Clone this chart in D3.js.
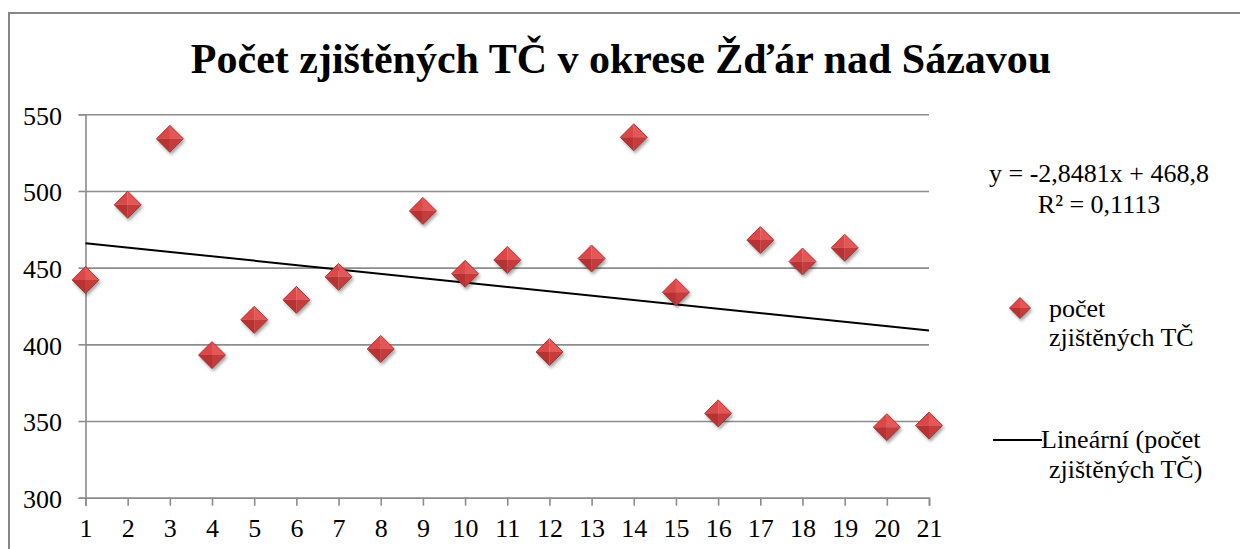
<!DOCTYPE html>
<html>
<head>
<meta charset="utf-8">
<script src="https://cdn.jsdelivr.net/npm/d3@7/dist/d3.min.js"></script>
<style>
  body { margin: 0; background: #fff; }
  svg text { font-family: "Liberation Serif", "Times New Roman", serif; fill: #000; }
</style>
</head>
<body>
<div id="chart"></div>
<script>
// data
var years = d3.range(1, 22);
var counts = [442, 491, 534, 393, 416, 429, 444, 397, 487, 446, 455, 395, 456, 535, 434, 355, 468, 454, 463, 346, 347];
var yTicks = [300, 350, 400, 450, 500, 550];
var title = "Počet zjištěných TČ v okrese Žďár nad Sázavou";
var eqLines = ["y = -2,8481x + 468,8", "R² = 0,1113"];
var seriesLabel = ["počet", "zjištěných TČ"];
var trendLabel = ["Lineární (počet", "zjištěných TČ)"];

var fullWidth = 1240, fullHeight = 549;
var margin = {top: 114.3, left: 85.5};
var width = 929 - margin.left;
var height = 497.7 - margin.top;
var fs = 26;

var svg = d3.select("#chart")
    .append("svg")
    .attr("width", fullWidth)
    .attr("height", fullHeight);

var defs = svg.append("defs");
var shadow = defs.append("filter").attr("id", "shadow")
    .attr("x", "-50%").attr("y", "-50%").attr("width", "200%").attr("height", "200%");
shadow.append("feDropShadow")
    .attr("dx", 1.5).attr("dy", 2.5).attr("stdDeviation", 1.6)
    .attr("flood-color", "#000").attr("flood-opacity", 0.35);

// outer chart border (runs off the right and bottom)
svg.append("rect")
    .attr("x", 9).attr("y", 13)
    .attr("width", 1260).attr("height", 600)
    .attr("fill", "none")
    .attr("stroke", "#878787")
    .attr("stroke-width", 2);

svg.append("text")
    .attr("x", 621).attr("y", 73)
    .attr("text-anchor", "middle")
    .attr("font-size", 42)
    .attr("font-weight", "bold")
    .text(title);

var g = svg.append("g")
    .attr("transform", "translate(" + margin.left + "," + margin.top + ")");

var xScale = d3.scaleLinear().domain([1, 21]).range([0, width]);
var yScale = d3.scaleLinear().domain([300, 550]).range([height, 0]);

// gridlines
g.append("g")
    .attr("class", "grid")
    .call(d3.axisLeft(yScale).tickValues(yTicks).tickSize(-width).tickFormat(""))
    .call(function(s) {
        s.select(".domain").remove();
        s.selectAll("line").attr("stroke", "#8c8c8c").attr("stroke-width", 1.6);
    });

var yAxis = d3.axisLeft(yScale).tickValues(yTicks).tickSize(7).tickPadding(16.5);
g.append("g")
    .call(yAxis)
    .call(function(s) {
        s.select(".domain").attr("stroke", "#8c8c8c").attr("stroke-width", 1.6);
        s.selectAll("line").attr("stroke", "#8c8c8c").attr("stroke-width", 1.6);
        s.selectAll("text").attr("font-size", fs).attr("dy", "0.38em");
    });

var xAxis = d3.axisBottom(xScale).tickValues(years).tickSize(8).tickPadding(13);
g.append("g")
    .attr("transform", "translate(0," + height + ")")
    .call(xAxis)
    .call(function(s) {
        s.select(".domain").attr("stroke", "#8c8c8c").attr("stroke-width", 1.6);
        s.selectAll("line").attr("stroke", "#8c8c8c").attr("stroke-width", 1.6);
        s.selectAll("text").attr("font-size", fs);
    });

// least squares trend line
var mx = d3.mean(years), my = d3.mean(counts);
var slope = d3.sum(years, function(d, i) { return (d - mx) * (counts[i] - my); }) /
            d3.sum(years, function(d) { return (d - mx) * (d - mx); });
var icpt = my - slope * mx;

var line = d3.line()
    .x(function(d) { return xScale(d); })
    .y(function(d) { return yScale(icpt + slope * d); });

g.append("path")
    .datum([1, 21])
    .attr("d", line)
    .attr("fill", "none")
    .attr("stroke", "#000")
    .attr("stroke-width", 2);

// bevelled diamond marker
function diamond(sel, r) {
    sel.attr("filter", "url(#shadow)");
    sel.append("path").attr("d", "M0," + (-r) + "L" + (-r) + ",0L0,0Z").attr("fill", "#dc4646");
    sel.append("path").attr("d", "M0," + (-r) + "L" + r + ",0L0,0Z").attr("fill", "#e55757");
    sel.append("path").attr("d", "M" + (-r) + ",0L0," + r + "L0,0Z").attr("fill", "#b93131");
    sel.append("path").attr("d", "M" + r + ",0L0," + r + "L0,0Z").attr("fill", "#c63a3a");
    sel.append("path")
        .attr("d", "M0," + (-r) + "L" + r + ",0L0," + r + "L" + (-r) + ",0Z")
        .attr("fill", "none").attr("stroke", "#9e2424").attr("stroke-width", 0.8);
}

g.selectAll(".pt")
    .data(counts)
    .enter()
    .append("g")
    .attr("class", "pt")
    .attr("transform", function(d, i) { return "translate(" + xScale(years[i]) + "," + yScale(d) + ")"; })
    .each(function() { diamond(d3.select(this), 13.5); });

// trendline equation
svg.append("g").selectAll("text")
    .data(eqLines)
    .enter()
    .append("text")
    .attr("x", 1099)
    .attr("y", function(d, i) { return 182 + i * 31; })
    .attr("text-anchor", "middle")
    .attr("font-size", fs)
    .text(function(d) { return d; });

// legend
var leg1 = svg.append("g").attr("transform", "translate(1020,308)");
leg1.append("g").call(function(s) { diamond(s, 10.5); });
leg1.selectAll("text")
    .data(seriesLabel)
    .enter()
    .append("text")
    .attr("x", 29)
    .attr("y", function(d, i) { return 9 + i * 28.5; })
    .attr("font-size", fs)
    .text(function(d) { return d; });

var leg2 = svg.append("g").attr("transform", "translate(993,440)");
leg2.append("line")
    .attr("x1", 0).attr("x2", 49)
    .attr("stroke", "#000").attr("stroke-width", 2);
leg2.selectAll("text")
    .data(trendLabel)
    .enter()
    .append("text")
    .attr("x", 49)
    .attr("y", function(d, i) { return 8 + i * 30; })
    .attr("font-size", fs)
    .text(function(d, i) { return d; })
    .attr("x", function(d, i) { return i === 0 ? 48 : 56; });
</script>
</body>
</html>
